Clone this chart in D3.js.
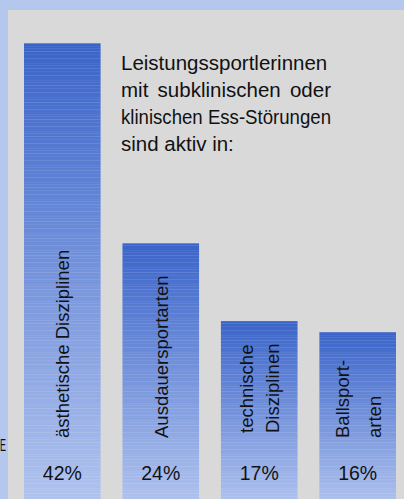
<!DOCTYPE html>
<html>
<head>
<meta charset="utf-8">
<script src="https://cdn.jsdelivr.net/npm/d3@7"></script>
<style>
  html, body { margin: 0; padding: 0; background: #b4c8ee; }
  svg { display: block; }
</style>
</head>
<body>
<svg id="chart" width="404" height="499"></svg>
<script>
// ---- data ----
const categories = ["ästhetische Disziplinen", "Ausdauersportarten", "technische Disziplinen", "Ballsportarten"];
const values = [42, 24, 17, 16];
const valueLabels = ["42%", "24%", "17%", "16%"];
const barLabelLines = [
  ["ästhetische Disziplinen"],
  ["Ausdauersportarten"],
  ["technische", "Disziplinen"],
  ["Ballsport-", "arten"]
];
const titleLines = [
  "Leistungssportlerinnen",
  "mit subklinischen oder",
  "klinischen Ess-Störungen",
  "sind aktiv in:"
];

// ---- layout ----
const W = 404, H = 499;
const svg = d3.select("#chart");
const FONT = "'Liberation Sans', Arial, sans-serif";

const x = d3.scaleBand().domain(categories).range([24, 396]).paddingInner(0.222).paddingOuter(0);
const y = d3.scaleLinear().domain([0, 45]).range([510, 10]);

// background panel
svg.append("rect").attr("x", 0).attr("y", 0).attr("width", W).attr("height", H).attr("fill", "#b4c8ee");
svg.append("rect").attr("x", 8).attr("y", 10).attr("width", W - 8).attr("height", H - 10).attr("fill", "#d9d9d9");

// defs: gradient + stripes
const defs = svg.append("defs");
const grad = defs.append("linearGradient").attr("id", "barGrad")
  .attr("x1", 0).attr("y1", 0).attr("x2", 0).attr("y2", 1);
grad.append("stop").attr("offset", "0%").attr("stop-color", "#3a64c9");
grad.append("stop").attr("offset", "100%").attr("stop-color", "#b3c5ef");

const pat = defs.append("pattern").attr("id", "stripes")
  .attr("patternUnits", "userSpaceOnUse").attr("width", 8).attr("height", 17);
[[0, 0.12], [3, 0.06], [7, 0.10], [12, 0.05], [14, 0.08]].forEach(([py, op]) => {
  pat.append("rect").attr("x", 0).attr("y", py).attr("width", 8).attr("height", 1)
    .attr("fill", "#ffffff").attr("opacity", op);
});

const data = categories.map((c, i) => ({ c, v: values[i], label: valueLabels[i], lines: barLabelLines[i] }));

const bars = svg.append("g").selectAll("g").data(data).join("g");
bars.append("rect")
  .attr("x", d => x(d.c)).attr("y", d => y(d.v))
  .attr("width", x.bandwidth()).attr("height", d => y(0) - y(d.v))
  .attr("fill", "url(#barGrad)");
bars.append("rect")
  .attr("x", d => x(d.c)).attr("y", d => y(d.v))
  .attr("width", x.bandwidth()).attr("height", d => y(0) - y(d.v))
  .attr("fill", "url(#stripes)");

// value labels
bars.append("text")
  .attr("x", d => x(d.c) + x.bandwidth() / 2)
  .attr("y", 480)
  .attr("text-anchor", "middle")
  .attr("font-family", FONT).attr("font-size", 19.5)
  .attr("fill", "#111")
  .text(d => d.label);

// rotated category labels
const lineGap = { 2: 26, 3: 32 };
const startY = { 0: 438, 1: 438, 2: 433, 3: 438 };
bars.each(function (d, i) {
  const g = d3.select(this);
  const cx = x(d.c) + x.bandwidth() / 2;
  const n = d.lines.length;
  const gap = lineGap[i] || 26;
  const first = cx + 7 - gap * (n - 1) / 2;
  d.lines.forEach((ln, k) => {
    const bx = first + k * gap;
    const sy = startY[i];
    g.append("text")
      .attr("transform", `translate(${bx},${sy}) rotate(-90)`)
      .attr("text-anchor", "start")
      .attr("font-family", FONT).attr("font-size", 18.5)
      .attr("fill", "#111")
      .text(ln);
  });
});

// title (justified)
const tx = 121, tw = 210, tBase = 70, tLead = 27, tSize = 20.5;
titleLines.forEach((line, li) => {
  const words = line.split(" ");
  const by = tBase + li * tLead;
  const justify = li < titleLines.length - 1;
  const nodes = words.map(w => svg.append("text")
    .attr("y", by).attr("font-family", FONT).attr("font-size", tSize)
    .attr("fill", "#111").text(w));
  const widths = nodes.map(n => n.node().getComputedTextLength());
  const total = d3.sum(widths);
  const minSpace = tSize * 0.25;
  if (justify && total + minSpace * (words.length - 1) > tw) {
    nodes.forEach(n => n.remove());
    svg.append("text").attr("x", tx).attr("y", by)
      .attr("font-family", FONT).attr("font-size", tSize).attr("fill", "#111")
      .attr("textLength", tw).attr("lengthAdjust", "spacingAndGlyphs")
      .text(line);
    return;
  }
  const space = (justify && words.length > 1) ? (tw - total) / (words.length - 1) : tSize * 0.278;
  let cur = tx;
  nodes.forEach((n, k) => { n.attr("x", cur); cur += widths[k] + space; });
});

// small glyph at the left edge
svg.append("text").attr("x", 0).attr("y", 451)
  .attr("font-family", FONT).attr("font-size", 16.5).attr("fill", "#111")
  .attr("textLength", 6).attr("lengthAdjust", "spacingAndGlyphs").text("E");
</script>
</body>
</html>
